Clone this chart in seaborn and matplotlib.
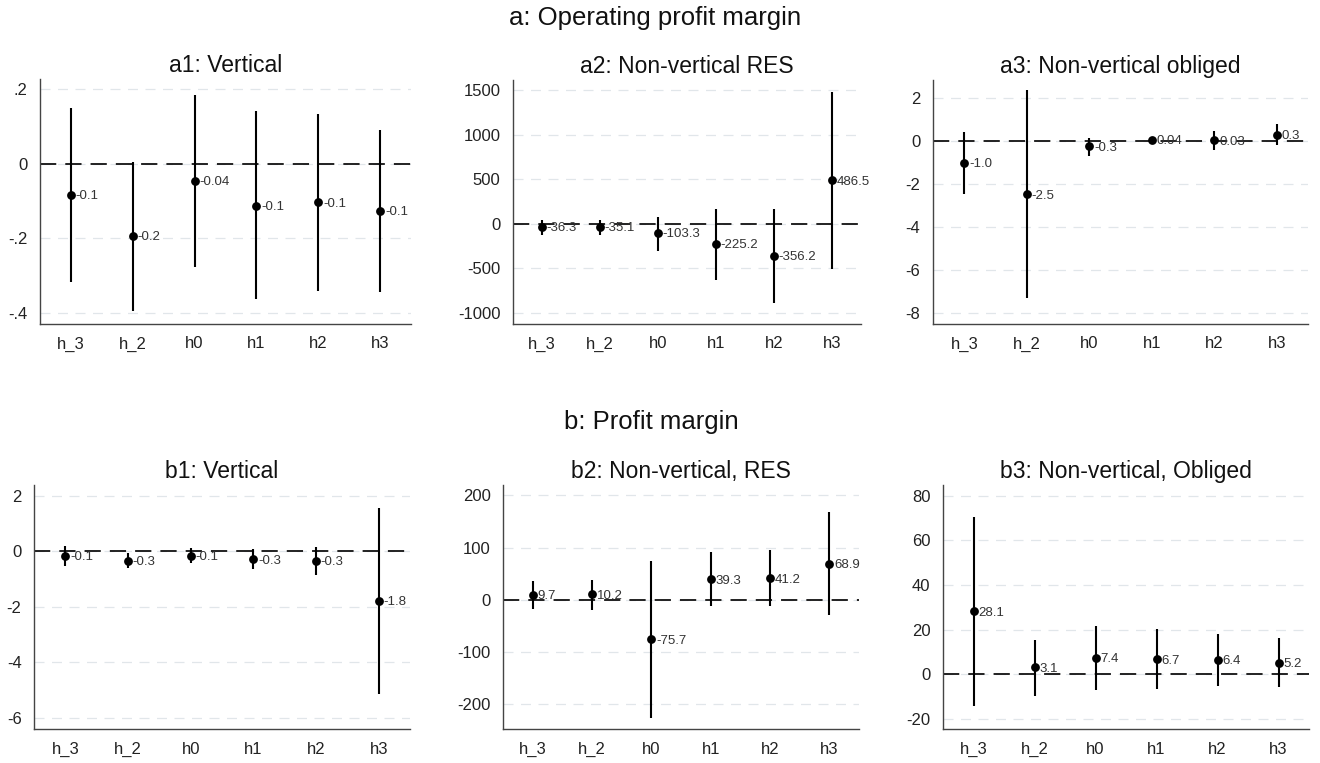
import numpy as np
import pandas as pd
import matplotlib
matplotlib.use("Agg")
import matplotlib.pyplot as plt
import seaborn as sns
from matplotlib.ticker import FuncFormatter

horizons = ["h_3", "h_2", "h0", "h1", "h2", "h3"]

# a: Operating profit margin
a1_est = [-0.084, -0.194, -0.046, -0.113, -0.104, -0.126]
a1_lo = [-0.317, -0.395, -0.277, -0.364, -0.342, -0.344]
a1_hi = [0.149, 0.005, 0.185, 0.140, 0.134, 0.091]
a1_lab = ["-0.1", "-0.2", "-0.04", "-0.1", "-0.1", "-0.1"]

a2_est = [-36.3, -35.1, -103.3, -225.2, -356.2, 486.5]
a2_lo = [-127, -127, -302, -630, -892, -511]
a2_hi = [41, 48, 78, 164, 164, 1473]
a2_lab = ["-36.3", "-35.1", "-103.3", "-225.2", "-356.2", "486.5"]

a3_est = [-1.03, -2.48, -0.26, 0.04, 0.03, 0.29]
a3_lo = [-2.47, -7.3, -0.68, -0.10, -0.42, -0.19]
a3_hi = [0.40, 2.36, 0.12, 0.15, 0.48, 0.77]
a3_lab = ["-1.0", "-2.5", "-0.3", "0.04", "0.03", "0.3"]

# b: Profit margin
b1_est = [-0.17, -0.35, -0.16, -0.30, -0.35, -1.78]
b1_lo = [-0.54, -0.62, -0.41, -0.66, -0.87, -5.14]
b1_hi = [0.19, -0.08, 0.10, 0.06, 0.16, 1.57]
b1_lab = ["-0.1", "-0.3", "-0.1", "-0.3", "-0.3", "-1.8"]

b2_est = [9.7, 10.2, -75.7, 39.3, 41.2, 68.9]
b2_lo = [-17, -19, -227, -13, -13, -29]
b2_hi = [35, 38, 75, 91, 95, 168]
b2_lab = ["9.7", "10.2", "-75.7", "39.3", "41.2", "68.9"]

b3_est = [28.1, 3.1, 7.4, 6.7, 6.4, 5.2]
b3_lo = [-14.5, -9.7, -7.0, -6.7, -5.5, -5.8]
b3_hi = [70.3, 15.4, 21.8, 20.1, 18.1, 16.1]
b3_lab = ["28.1", "3.1", "7.4", "6.7", "6.4", "5.2"]

sns.set_style("white")
plt.rcParams["font.family"] = ["Liberation Sans", "DejaVu Sans"]
plt.rcParams["axes.unicode_minus"] = False

W, H = 1320, 763
fig = plt.figure(figsize=(W / 100, H / 100), dpi=100)


def px_axes(x0, y0, x1, y1):
    return fig.add_axes([x0 / W, (H - y1) / H, (x1 - x0) / W, (y1 - y0) / H])


def panel(ax, title, est, lo, hi, lab, ylim, yticks, fmt=None):
    df = pd.DataFrame({"h": horizons, "est": est, "lo": lo, "hi": hi, "lab": lab})
    df["x"] = np.arange(len(df))
    for t in yticks:
        ax.axhline(t, color="#e1e6ea", lw=0.9, ls=(0, (8, 6)), zorder=0)
    ax.axhline(0, color="#111111", lw=1.3, ls=(0, (9, 5)), zorder=1)
    ax.vlines(df["x"], df["lo"], df["hi"], color="black", lw=1.5, zorder=2)
    sns.scatterplot(data=df, x="x", y="est", ax=ax, color="black", s=40,
                    edgecolor="black", linewidth=0, zorder=3)
    for _, r in df.iterrows():
        ax.annotate(r["lab"], (r["x"], r["est"]), xytext=(3.5, -1),
                    textcoords="offset points", va="center", ha="left",
                    fontsize=9.5, color="#333333", zorder=4)
    ax.set_xlim(-0.5, len(df) - 0.5)
    ax.set_xticks(df["x"])
    ax.set_xticklabels(horizons)
    ax.set_ylim(*ylim)
    ax.set_yticks(yticks)
    if fmt is not None:
        ax.yaxis.set_major_formatter(FuncFormatter(fmt))
    ax.set_xlabel("")
    ax.set_ylabel("")
    ax.set_title(title, fontsize=16.5, pad=5, color="#111111")
    for s in ["top", "right"]:
        ax.spines[s].set_visible(False)
    for s in ["left", "bottom"]:
        ax.spines[s].set_color("#444444")
        ax.spines[s].set_linewidth(1.0)
    ax.tick_params(axis="both", direction="out", length=5, width=1.0,
                   color="#444444", labelsize=12, labelcolor="#222222", pad=4)


def stata_fmt(v, pos):
    if abs(v) < 1e-9:
        return "0"
    s = f"{v:.1f}"
    return s.replace("0.", ".")


panel(px_axes(40, 79, 411, 324), "a1: Vertical", a1_est, a1_lo, a1_hi, a1_lab,
      (-0.43, 0.227), [-0.4, -0.2, 0, 0.2], stata_fmt)
panel(px_axes(513, 80, 861, 324), "a2: Non-vertical RES", a2_est, a2_lo, a2_hi, a2_lab,
      (-1123, 1612), [-1000, -500, 0, 500, 1000, 1500])
panel(px_axes(933, 80, 1308, 324), "a3: Non-vertical obliged", a3_est, a3_lo, a3_hi, a3_lab,
      (-8.51, 2.83), [-8, -6, -4, -2, 0, 2])
panel(px_axes(34, 485, 410, 729), "b1: Vertical", b1_est, b1_lo, b1_hi, b1_lab,
      (-6.4, 2.38), [-6, -4, -2, 0, 2])
panel(px_axes(503, 485, 859, 729), "b2: Non-vertical, RES", b2_est, b2_lo, b2_hi, b2_lab,
      (-248, 220), [-200, -100, 0, 100, 200])
panel(px_axes(943, 485, 1309, 729), "b3: Non-vertical, Obliged", b3_est, b3_lo, b3_hi, b3_lab,
      (-24.6, 84.8), [-20, 0, 20, 40, 60, 80])

fig.text(655 / W, 1 - 18 / H, "a: Operating profit margin", ha="center", va="center",
         fontsize=18.5, color="#111111")
fig.text(651 / W, 1 - 422 / H, "b: Profit margin", ha="center", va="center",
         fontsize=18.5, color="#111111")

fig.savefig("out.png", dpi=100, facecolor="white")
